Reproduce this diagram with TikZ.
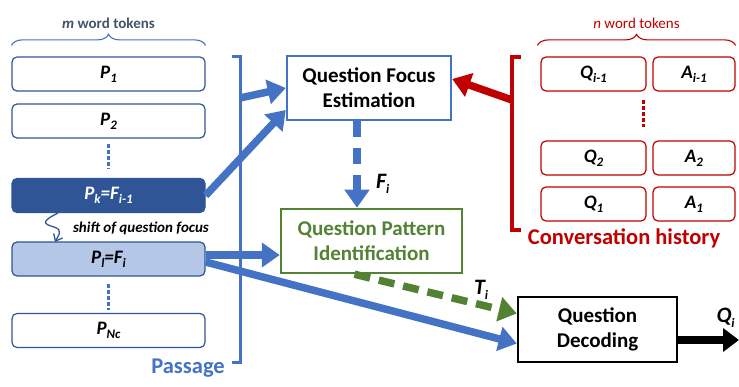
\documentclass[tikz,border=0pt]{standalone}
\usepackage{fontspec}
\setmainfont{Carlito}
\usetikzlibrary{arrows.meta,decorations.pathreplacing,positioning,calc}
\definecolor{myblue}{HTML}{4472C4}
\definecolor{mydark}{HTML}{2F5597}
\definecolor{mylight}{HTML}{B4C7E7}
\definecolor{myred}{HTML}{C00000}
\definecolor{mygreen}{HTML}{548235}
\definecolor{mygray}{HTML}{44546A}
\newcommand{\mysub}[1]{\raisebox{-0.45ex}{\fontsize{13}{13}\selectfont #1}}
\begin{document}
\begin{tikzpicture}[%
                x=1pt, y=-1pt,
                mytok/.style={draw=mydark, line width=1.2pt, rounded corners=5pt, minimum width=193pt,
                  minimum height=34pt, inner sep=0pt, font=\fontsize{19}{19}\selectfont\bfseries\itshape},
                myhist/.style={mytok, draw=myred},
                mymod/.style={draw=#1, line width=2.5pt, minimum height=64pt, inner sep=0pt, align=center,
                  font=\fontsize{21}{25}\selectfont\bfseries},
                myarrow/.style={line width=7.5pt, -{Triangle[length=18pt,width=24pt]}},
                mydots/.style={line width=3pt, dash pattern=on 4pt off 2pt},
                mybrace/.style={decorate, decoration={brace, amplitude=11pt}, line width=1.1pt},
                mylabel/.style={text=black, font=\fontsize{22}{22}\selectfont\bfseries\itshape}
        ]
            \useasboundingbox (0,0) rectangle (739,387);
            % passage tokens
            \node [mytok] (p1) at (108.5,74) {P\mysub{1}};
            \node [mytok] (p2) at (108.5,121) {P\mysub{2}};
            \node [mytok, fill=mydark, text=white] (pk) at (108.5,195.5) {P\mysub{k}=F\mysub{i-1}};
            \node [mytok, fill=mylight] (pl) at (108.5,259) {P\mysub{l}=F\mysub{i}};
            \node [mytok] (pn) at (108.5,330.5) {P\mysub{Nc}};
            \draw [mydots, myblue] (p2.south) ++(0,5) -- ++(0,25);
            \draw [mydots, myblue] (pl.south) ++(0,7) -- ++(0,26);
            \draw [mybrace, myblue] (p1.north west) ++(0,-11) coordinate (mb1)
                -- (p1.north east |- mb1) node [midway, above=13pt, text=mygray,
                font=\fontsize{15}{15}\selectfont\bfseries] (mtok) {\textit{m} word tokens};
            % passage bracket
            \draw [myblue, line width=3pt] (232,57) -- (240,57) coordinate (pb)
                -- (240,362) -- (232,362);
            \coordinate (pbr) at (240,98);
            \node [text=myblue, font=\fontsize{22.5}{22.5}\selectfont\bfseries] (passage) at (188,368) {Passage};
            % conversation history
            \node [myhist, minimum width=105pt] (qa) at (593.5,74) {Q\mysub{i-1}};
            \node [myhist, minimum width=82pt] (aa) at (694,74) {A\mysub{i-1}};
            \node [myhist, minimum width=105pt] (qb) at (593.5,158) {Q\mysub{2}};
            \node [myhist, minimum width=82pt] (ab) at (694,158) {A\mysub{2}};
            \node [myhist, minimum width=105pt] (qc) at (593.5,204) {Q\mysub{1}};
            \node [myhist, minimum width=82pt] (ac) at (694,204) {A\mysub{1}};
            \draw [mydots, myred] (643,100) -- (643,127);
            \draw [mybrace, myred] (qa.north west) ++(-3,-11) coordinate (nb1)
                -- (aa.north east |- nb1) node [midway, above=13pt, text=myred,
                font=\fontsize{15}{15}\selectfont] (ntok) {\textit{n} word tokens};
            \draw [myred, line width=3.5pt] (521,57) -- (512,57) -- (512,230) -- (521,230);
            \coordinate (hbr) at (512,100);
            \node [text=myred, font=\fontsize{22.5}{22.5}\selectfont\bfseries] (hist) at (624,238) {Conversation history};
            % modules
            \node [mymod=myblue, minimum width=164pt] (qfe) at (369,88) {Question Focus\\Estimation};
            \node [mymod=mygreen, text=mygreen, minimum width=181pt] (qpi) at (371.5,241) {Question Pattern\\Identification};
            \node [mymod=black, minimum width=159pt, minimum height=65pt] (qd) at (597.5,329.5) {Question\\Decoding};
            % connectors
            \draw [myarrow, myblue] (pbr) -- (qfe.west);
            \draw [myarrow, myblue] (pk.east) -- ([yshift=-22pt]qfe.west);
            \draw [myarrow, myred] (hbr) -- ([yshift=9pt]qfe.east);
            \draw [myarrow, myblue, dash pattern=on 16pt off 11pt] ([xshift=-12pt]qfe.south)
                -- ([xshift=-12pt]qfe.south |- qpi.north) node [pos=0.72, right=12pt, mylabel] (fi) {F\mysub{i}};
            \draw [myarrow, myblue] ([yshift=4pt]pl.east) -- ([yshift=4pt]pl.east -| qpi.west);
            \draw [myarrow, myblue] ([yshift=-3pt]pl.east) -- ([yshift=-14pt]qd.west);
            \draw [myarrow, mygreen, dash pattern=on 16pt off 9pt] ([xshift=-17pt]qpi.south)
                -- ([yshift=16pt]qd.west) node [pos=0.78, above=-2pt, mylabel] (ti) {T\mysub{i}};
            \coordinate (qout) at (739,340);
            \draw [line width=8pt, -{Triangle[length=16pt,width=23pt]}] (qd.east |- qout) -- (qout)
                node [pos=0.78, above=5pt, mylabel] (qi) {Q\mysub{i}};
            \draw [mydark, line width=1.3pt, -{Straight Barb[length=6pt,width=10pt]}]
                (58,213) .. controls (40,222) and (44,224) .. (54,227)
                .. controls (64,230) and (58,236) .. (55,242);
            \node [font=\fontsize{15}{15}\selectfont\bfseries\itshape] (shift) at (141,228) {shift of question focus};
        \end{tikzpicture}
\end{document}
